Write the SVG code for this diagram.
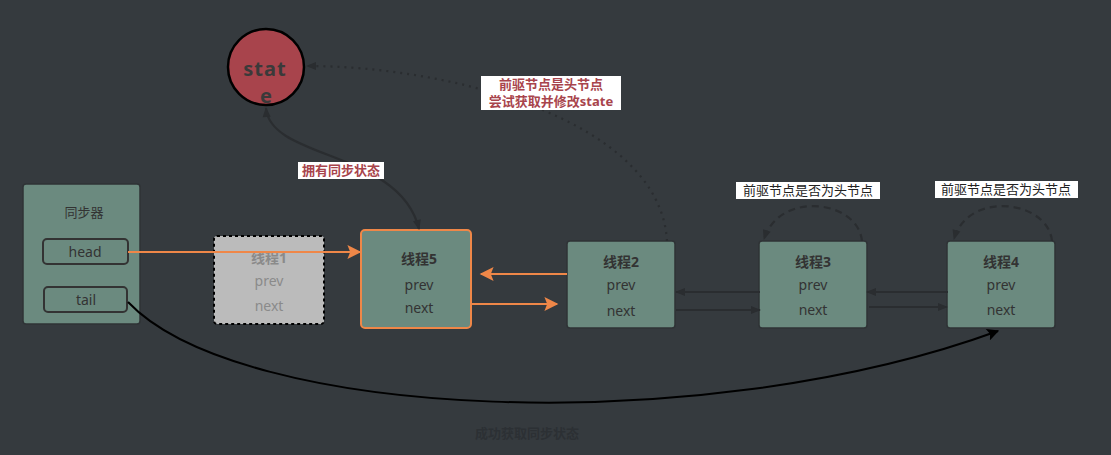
<svg xmlns="http://www.w3.org/2000/svg" width="1111" height="455" viewBox="0 0 1111 455">
<style>
text{font-family:"Noto Sans","Noto Sans CJK SC",sans-serif;text-anchor:middle}
.node{fill:#6b8a7f;stroke:#2f3336;stroke-width:1.5}
.t{font-size:14px;fill:#333}
.tb{font-size:14px;font-weight:bold;fill:#333}
.lab{fill:#fff}
.red{font-size:13px;font-weight:bold;fill:#a8444c}
.blk{font-size:13px;fill:#222}
.dk{fill:none;stroke:#2a2d30;stroke-width:2.2}
.or{fill:none;stroke:#ef8748;stroke-width:2}
</style>
<defs>
<marker id="ad" viewBox="0 0 10 10" refX="9" refY="5" markerWidth="11" markerHeight="10" markerUnits="userSpaceOnUse" orient="auto-start-reverse"><path d="M0,1 L10,5 L0,9 z" fill="#2a2d30"/></marker>
<marker id="ao" viewBox="0 0 10 10" refX="9" refY="5" markerWidth="16" markerHeight="14" markerUnits="userSpaceOnUse" orient="auto"><path d="M0,0 L10,5 L0,10 L2,5 z" fill="#ef8748"/></marker>
<marker id="ab" viewBox="0 0 10 10" refX="9" refY="5" markerWidth="14" markerHeight="12" markerUnits="userSpaceOnUse" orient="auto"><path d="M0,0 L10,5 L0,10 L2,5 z" fill="#000"/></marker>
</defs>
<rect width="1111" height="455" fill="#353a3e"/>

<g id="state">
<circle cx="266" cy="67" r="38" fill="#a8444c" stroke="#000" stroke-width="2.5"/>
<text x="265" y="76" style="font-size:20px;font-weight:bold;fill:#3a3a3a;letter-spacing:1px">stat</text>
<text x="266" y="103" style="font-size:20px;font-weight:bold;fill:#3a3a3a">e</text>
</g>

<g id="sync">
<rect class="node" x="23" y="184" width="117" height="140" rx="3"/>
<text class="t" x="84" y="217" style="font-size:13px">同步器</text>
<rect x="43" y="239" width="85" height="25" rx="4" fill="#6b8a7f" stroke="#333" stroke-width="2"/>
<text class="t" x="85" y="257">head</text>
<rect x="44" y="287" width="83" height="25" rx="4" fill="#6b8a7f" stroke="#333" stroke-width="2"/>
<text class="t" x="86" y="305">tail</text>
</g>

<g id="thread1">
<rect x="214" y="236" width="110" height="88" rx="3" fill="#bbbbbb" stroke="#000" stroke-width="2" stroke-dasharray="3,3"/>
<text class="tb" x="269" y="263" style="fill:#8a8a8a">线程1</text>
<text class="t" x="269" y="286" style="fill:#8a8a8a">prev</text>
<text class="t" x="269" y="311" style="fill:#8a8a8a">next</text>
</g>

<g id="thread5">
<rect x="361" y="230" width="110" height="98" rx="4" fill="#6b8a7f" stroke="#ef8748" stroke-width="2"/>
<text class="tb" x="419" y="264">线程5</text>
<text class="t" x="419" y="290">prev</text>
<text class="t" x="419" y="313">next</text>
</g>

<g id="thread2">
<rect class="node" x="567" y="241" width="108" height="87" rx="3"/>
<text class="tb" x="621" y="267">线程2</text>
<text class="t" x="621" y="290">prev</text>
<text class="t" x="621" y="316">next</text>
</g>

<g id="thread3">
<rect class="node" x="759" y="241" width="108" height="87" rx="3"/>
<text class="tb" x="813" y="267">线程3</text>
<text class="t" x="813" y="290">prev</text>
<text class="t" x="813" y="315">next</text>
</g>

<g id="thread4">
<rect class="node" x="947" y="241" width="108" height="87" rx="3"/>
<text class="tb" x="1001" y="267">线程4</text>
<text class="t" x="1001" y="290">prev</text>
<text class="t" x="1001" y="315">next</text>
</g>

<g id="connectors">
<path class="dk" d="M667,241 C 660,120 450,66 307,66" stroke-dasharray="2,5" marker-end="url(#ad)"/>
<path class="dk" d="M266,108 C 270,160 400,150 419,229" stroke-width="1.5" marker-start="url(#ad)" marker-end="url(#ad)"/>
<path class="dk" d="M862,241 C 858,200 780,190 764,239" stroke-dasharray="7,5" marker-end="url(#ad)"/>
<path class="dk" d="M1052,241 C 1048,200 968,190 954,239" stroke-dasharray="7,5" marker-end="url(#ad)"/>
<path class="or" d="M128,252 L360,252" marker-end="url(#ao)"/>
<path class="or" d="M567,274 L481,274" marker-end="url(#ao)"/>
<path class="or" d="M471,304 L557,304" marker-end="url(#ao)"/>
<path class="dk" d="M760,292 L676,292" marker-end="url(#ad)"/>
<path class="dk" d="M676,310 L760,310" marker-end="url(#ad)"/>
<path class="dk" d="M948,292 L867,292" marker-end="url(#ad)"/>
<path class="dk" d="M869,307 L947,307" marker-end="url(#ad)"/>
<path d="M128,302 C 240,420 700,440 998,331" fill="none" stroke="#000" stroke-width="2" marker-end="url(#ab)"/>
</g>

<g id="label-prev-head">
<rect class="lab" x="481" y="76" width="140" height="34"/>
<text class="red" x="551" y="89">前驱节点是头节点</text>
<text class="red" x="551" y="106">尝试获取并修改state</text>
</g>
<g id="label-own">
<rect class="lab" x="298" y="162" width="86" height="17"/>
<text class="red" x="341" y="175">拥有同步状态</text>
</g>
<g id="label-check3">
<rect class="lab" x="736" y="182" width="144" height="17"/>
<text class="blk" x="808" y="195">前驱节点是否为头节点</text>
</g>
<g id="label-check4">
<rect class="lab" x="935" y="181" width="143" height="17"/>
<text class="blk" x="1006" y="194">前驱节点是否为头节点</text>
</g>

<text x="527" y="438" style="font-size:13px;font-weight:bold;fill:#2c3034">成功获取同步状态</text>
</svg>
